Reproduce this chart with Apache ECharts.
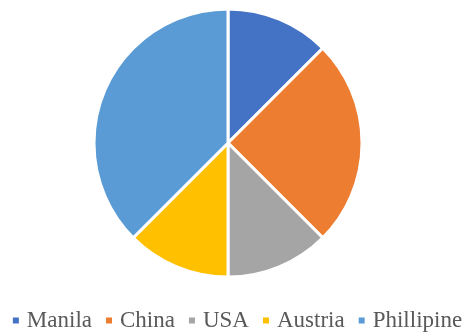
<!DOCTYPE html>
<html>
<head>
<meta charset="utf-8">
<script src="https://cdn.jsdelivr.net/npm/echarts@6/dist/echarts.min.js"></script>
<style>
	html, body { margin: 0; padding: 0; background: #fff; }
	#chart { width: 473px; height: 332px; }
</style>
</head>
<body>
<div id="chart"></div>
<script>
	// 数据
	const categories = ['Manila', 'China', 'USA', 'Austria', 'Phillipine']
	const values = [1, 2, 1, 1, 3]
	const colors = ['#4472C4', '#ED7D31', '#A5A5A5', '#FFC000', '#5B9BD5']

	const chart = echarts.init(document.getElementById('chart'))
	const option = {
		animation: false,
		color: colors,
		legend: {
			top: 309,
			left: 'center',
			itemWidth: 8,
			itemHeight: 8,
			itemGap: 12,
			icon: 'rect',
			padding: 0,
			textStyle: {
				fontFamily: 'Liberation Serif',
				fontSize: 23,
				color: '#595959',
				padding: [0, 0, 0, 2]
			},
			data: categories
		},
		series: [{
			type: 'pie',
			center: [228, 143],
			radius: 134,
			startAngle: 90,
			clockwise: true,
			label: { show: false },
			labelLine: { show: false },
			itemStyle: {
				borderColor: '#fff',
				borderWidth: 3
			},
			data: categories.map((name, i) => ({ name: name, value: values[i] }))
		}]
	}
	chart.setOption(option)
</script>
</body>
</html>
